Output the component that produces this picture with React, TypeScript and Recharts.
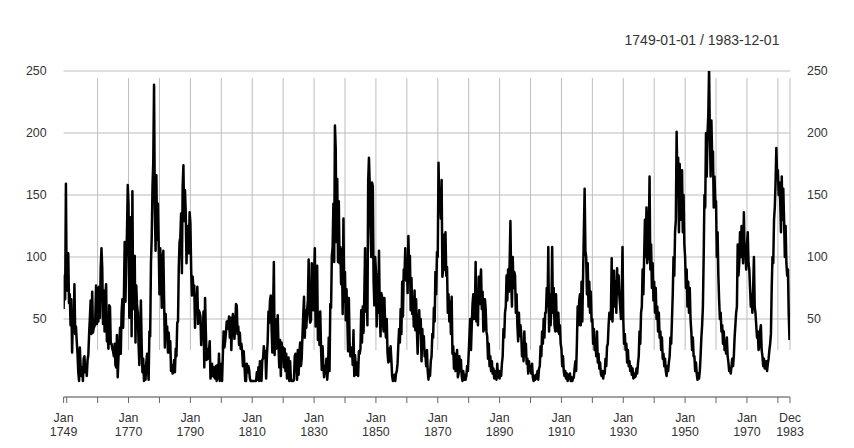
import { LineChart, Line, XAxis, YAxis, CartesianGrid, ReferenceLine } from 'recharts';

const START_YEAR = 1749;
const END_TIME = 1983 + 11 / 12;

// sunspot numbers, four readings per year (Jan, Apr, Jul, Oct)
const sunspots = [
  58, 85, 66, 159, 73, 100, 103, 63, 70, 45, 66, 23, 50, 40, 78, 38, 44, 32, 22, 7, // 1749-1753
  0, 27, 12, 4, 11, 0, 18, 20, 7, 13, 4, 17, 21, 38, 51, 65, 38, 72, 39, 43, // 1754-1758
  44, 50, 77, 46, 75, 48, 76, 51, 91, 107, 91, 46, 73, 40, 68, 78, 32, 36, 26, 61, // 1759-1763
  60, 30, 30, 26, 24, 20, 30, 13, 11, 37, 3, 19, 27, 43, 22, 55, 66, 43, 67, 112, // 1764-1768
  64, 97, 120, 158, 143, 51, 126, 132, 36, 153, 58, 100, 101, 31, 77, 61, 55, 29, 13, 43, // 1769-1773
  65, 29, 7, 18, 0, 12, 1, 15, 22, 11, 1, 40, 36, 95, 116, 157, 177, 239, 140, 105, // 1774-1778
  166, 114, 143, 110, 70, 107, 86, 59, 99, 105, 66, 27, 54, 38, 44, 23, 39, 23, 32, 8, // 1779-1783
  13, 6, 10, 17, 7, 26, 20, 47, 48, 92, 112, 116, 135, 87, 157, 174, 129, 154, 136, 95, // 1784-1788
  125, 120, 103, 136, 128, 91, 69, 84, 73, 77, 43, 67, 64, 76, 46, 57, 55, 52, 29, 46, // 1789-1793
  38, 56, 11, 67, 40, 17, 26, 18, 24, 32, 2, 5, 14, 4, 11, 3, 2, 12, 0, 13, // 1794-1798
  2, 22, 0, 9, 14, 0, 21, 40, 27, 32, 39, 48, 48, 42, 52, 35, 51, 25, 48, 54, // 1799-1803
  45, 34, 43, 62, 61, 38, 44, 29, 39, 26, 30, 24, 12, 24, 12, 0, 0, 14, 7, 12, // 1804-1808
  9, 2, 0, 0, 0, 0, 0, 0, 0, 0, 7, 1, 11, 0, 16, 10, 0, 17, 18, 28, // 1809-1813
  22, 24, 2, 20, 32, 56, 47, 65, 69, 44, 23, 56, 96, 21, 50, 26, 35, 53, 28, 11, // 1814-1818
  33, 4, 31, 25, 27, 11, 26, 8, 22, 2, 5, 19, 0, 16, 2, 0, 0, 0, 1, 20, // 1819-1823
  22, 19, 1, 25, 5, 22, 31, 12, 18, 37, 53, 68, 35, 57, 43, 57, 65, 98, 54, 47, // 1824-1828
  49, 95, 91, 57, 85, 107, 44, 84, 93, 33, 55, 29, 56, 27, 9, 28, 11, 3, 12, 6, // 1829-1833
  18, 1, 9, 35, 8, 62, 59, 101, 108, 143, 96, 206, 188, 112, 163, 96, 145, 95, 108, 78, // 1834-1838
  106, 54, 131, 64, 88, 49, 74, 50, 24, 67, 31, 20, 22, 27, 13, 41, 4, 21, 12, 5, // 1839-1843
  15, 4, 24, 22, 26, 57, 31, 60, 39, 69, 107, 56, 86, 45, 161, 180, 159, 124, 100, 160, // 1844-1848
  157, 81, 61, 100, 89, 44, 86, 55, 105, 57, 36, 71, 68, 47, 40, 67, 43, 35, 50, 23, // 1849-1853
  15, 26, 16, 28, 17, 4, 0, 3, 5, 0, 6, 8, 14, 29, 42, 31, 58, 38, 80, 52, // 1854-1858
  90, 86, 107, 81, 99, 71, 117, 90, 101, 57, 83, 54, 64, 44, 73, 41, 66, 41, 22, 41, // 1859-1863
  57, 39, 50, 16, 42, 26, 36, 20, 22, 12, 25, 8, 1, 9, 4, 16, 20, 38, 35, 59, // 1864-1868
  48, 88, 70, 104, 100, 176, 138, 150, 131, 162, 84, 90, 118, 90, 120, 85, 92, 55, 70, 48, // 1869-1873
  64, 38, 68, 22, 28, 10, 22, 8, 15, 25, 3, 6, 20, 8, 17, 4, 0, 8, 1, 5, // 1874-1878
  1, 4, 12, 8, 22, 36, 50, 25, 45, 62, 70, 50, 54, 96, 48, 60, 45, 84, 62, 80, // 1879-1883
  90, 58, 72, 40, 42, 66, 58, 40, 36, 18, 30, 12, 20, 8, 16, 6, 10, 2, 8, 6, // 1884-1888
  1, 14, 3, 8, 2, 8, 4, 14, 20, 42, 35, 55, 60, 85, 65, 90, 72, 95, 129, 80, // 1889-1893
  60, 100, 75, 88, 85, 55, 70, 45, 32, 55, 36, 45, 38, 20, 28, 16, 40, 20, 30, 14, // 1894-1898
  18, 6, 16, 8, 12, 6, 14, 3, 0, 4, 1, 5, 2, 8, 1, 10, 12, 28, 20, 40, // 1899-1903
  30, 50, 35, 55, 55, 75, 60, 108, 40, 70, 45, 60, 108, 55, 75, 45, 40, 70, 45, 40, // 1904-1908
  55, 38, 45, 30, 26, 12, 20, 8, 4, 8, 2, 6, 0, 5, 2, 6, 0, 3, 0, 2, // 1909-1913
  3, 10, 16, 8, 30, 60, 45, 65, 70, 45, 80, 48, 85, 120, 155, 105, 100, 70, 95, 60, // 1914-1918
  80, 55, 72, 48, 50, 30, 42, 25, 32, 20, 40, 15, 22, 10, 15, 6, 4, 8, 2, 8, // 1919-1923
  6, 18, 12, 28, 30, 45, 55, 50, 55, 99, 48, 70, 89, 60, 80, 55, 91, 70, 85, 68, // 1924-1928
  60, 50, 70, 108, 50, 30, 38, 25, 30, 15, 25, 12, 16, 8, 12, 5, 10, 2, 6, 3, // 1929-1933
  4, 10, 6, 14, 20, 40, 30, 55, 60, 90, 70, 100, 130, 100, 140, 95, 100, 120, 165, 90, // 1934-1938
  110, 75, 95, 65, 80, 55, 75, 50, 60, 40, 55, 35, 40, 25, 35, 18, 22, 12, 18, 8, // 1939-1943
  4, 12, 8, 15, 20, 35, 30, 50, 70, 100, 85, 120, 130, 201, 160, 180, 120, 175, 130, 150, // 1944-1948
  170, 120, 150, 110, 100, 75, 90, 60, 80, 55, 75, 50, 40, 25, 35, 20, 20, 8, 15, 6, // 1949-1953
  1, 6, 2, 8, 20, 35, 45, 60, 100, 150, 140, 200, 165, 200, 215, 253, 200, 165, 210, 180, // 1954-1958
  185, 140, 165, 145, 145, 100, 120, 85, 65, 50, 55, 40, 45, 30, 40, 25, 30, 22, 35, 20, // 1959-1963
  15, 8, 10, 6, 12, 18, 12, 20, 35, 45, 55, 60, 110, 85, 95, 120, 100, 125, 110, 95, // 1964-1968
  136, 100, 105, 90, 110, 120, 95, 90, 75, 60, 70, 55, 75, 100, 60, 55, 45, 35, 40, 25, // 1969-1973
  28, 40, 45, 25, 20, 12, 18, 10, 10, 16, 8, 14, 18, 25, 30, 38, 75, 100, 95, 130, // 1974-1978
  140, 160, 188, 165, 170, 150, 160, 145, 120, 165, 130, 155, 130, 100, 125, 95, 85, 90, 55, 33, // 1979-1983
];

const Y_TICKS = [50, 100, 150, 200, 250];
const GRID_YEARS = [1760, 1770, 1780, 1790, 1800, 1810, 1820, 1830, 1840, 1850, 1860, 1870, 1880, 1890, 1900, 1910, 1920, 1930, 1940, 1950, 1960, 1970, 1980];
const X_TICKS = [1749, 1750, ...GRID_YEARS, END_TIME];
const LABEL_TICKS = [1749, 1770, 1790, 1810, 1830, 1850, 1870, 1890, 1910, 1930, 1950, 1970, END_TIME];
const LABEL_MONTHS = ['Jan', 'Jan', 'Jan', 'Jan', 'Jan', 'Jan', 'Jan', 'Jan', 'Jan', 'Jan', 'Jan', 'Jan', 'Dec'];
const LABEL_YEARS = ['1749', '1770', '1790', '1810', '1830', '1850', '1870', '1890', '1910', '1930', '1950', '1970', '1983'];

const data = sunspots.map((v, i) => ({ t: START_YEAR + i / 4, value: v }));

const FONT = '"Liberation Sans", Arial, Helvetica, sans-serif';
const TEXT = '#333';
const GRID = '#bdbdbd';

function DateTick({ x, y, payload }: any) {
  const idx = LABEL_TICKS.indexOf(payload.value);
  if (idx < 0) return <g />;
  return (
    <text x={x} y={y} textAnchor="middle" fill={TEXT} fontSize={12.4} fontFamily={FONT}>
      <tspan x={x} dy={16.7}>{LABEL_MONTHS[idx]}</tspan>
      <tspan x={x} dy={14.4}>{LABEL_YEARS[idx]}</tspan>
    </text>
  );
}

export default function App() {
  return (
    <div style={{ position: 'relative', width: 854, height: 448, background: '#fff' }}>
      <style>{'body { margin: 0; }'}</style>
      <LineChart width={854} height={448} data={data} margin={{ top: 71, right: 0, bottom: 0, left: 0 }}>
        <CartesianGrid yAxisId="left" vertical={false} stroke={GRID} strokeWidth={1} />
        <XAxis
          dataKey="t"
          type="number"
          domain={[START_YEAR, END_TIME]}
          ticks={X_TICKS}
          interval={0}
          allowDataOverflow
          height={51}
          stroke="#666"
          tickSize={6}
          tickMargin={2}
          tick={<DateTick />}
        />
        <YAxis
          yAxisId="left"
          width={63.6}
          domain={[-12.9, 250]}
          ticks={Y_TICKS}
          allowDataOverflow
          axisLine={false}
          tickLine={false}
          tickSize={0}
          tickMargin={17}
          tick={{ fill: TEXT, fontSize: 12.4, fontFamily: FONT }}
        />
        <YAxis
          yAxisId="right"
          orientation="right"
          width={64}
          domain={[-12.9, 250]}
          ticks={Y_TICKS}
          allowDataOverflow
          axisLine={false}
          tickLine={false}
          tickSize={0}
          tickMargin={17}
          tick={{ fill: TEXT, fontSize: 12.4, fontFamily: FONT }}
        />
        {[...GRID_YEARS, END_TIME].map((yr) => (
          <ReferenceLine
            key={yr}
            yAxisId="left"
            segment={[{ x: yr, y: 25 }, { x: yr, y: 244.4 }]}
            stroke={GRID}
            strokeWidth={1}
          />
        ))}
        <Line
          yAxisId="left"
          type="linear"
          dataKey="value"
          stroke="#000"
          strokeWidth={2.5}
          strokeLinejoin="round"
          dot={false}
          isAnimationActive={false}
        />
      </LineChart>
      <svg width={854} height={60} style={{ position: 'absolute', left: 0, top: 0 }}>
        <text x={702} y={45.3} textAnchor="middle" fill={TEXT} fontSize={14} fontFamily={FONT}>
          1749-01-01 / 1983-12-01
        </text>
      </svg>
    </div>
  );
}
